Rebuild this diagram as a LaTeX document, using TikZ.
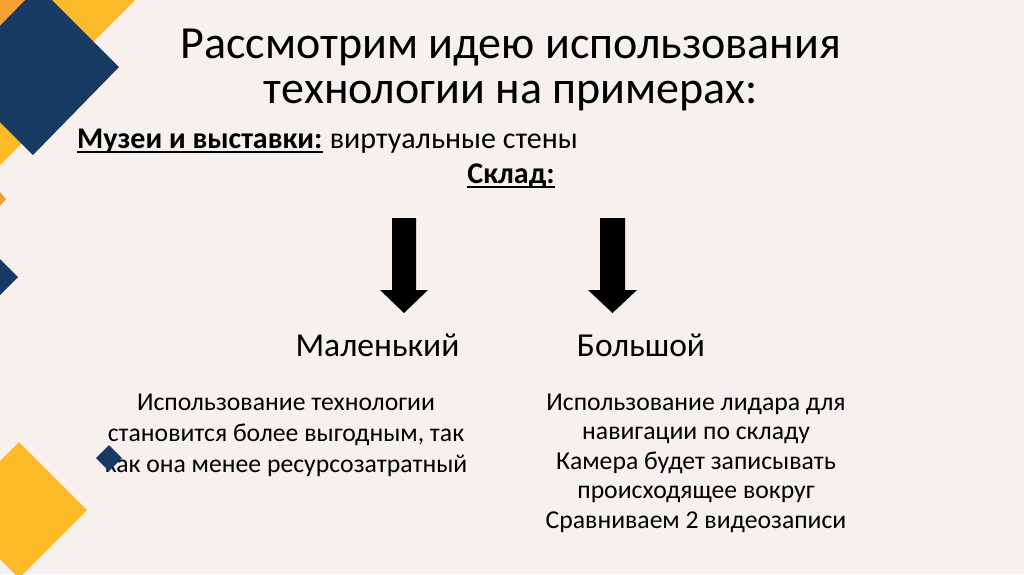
\documentclass[tikz,border=0pt]{standalone}
\usepackage{fontspec}
\setmainfont{Carlito}
\definecolor{bg}{RGB}{248,240,237}
\definecolor{navy}{RGB}{22,58,97}
\definecolor{gold}{RGB}{253,186,40}
\definecolor{orng}{RGB}{247,158,52}
\tikzset{
  titletext/.style={anchor=base, align=center, inner sep=0pt, font=\fontsize{46}{45}\selectfont},
  headtext/.style={anchor=base west, inner sep=0pt, font=\fontsize{30}{36}\selectfont},
  subtext/.style={anchor=base, inner sep=0pt, font=\fontsize{33.5}{40}\selectfont},
  bodyleft/.style={anchor=base, align=center, inner sep=0pt, font=\fontsize{25.7}{31}\selectfont},
  bodyright/.style={anchor=base, align=center, inner sep=0pt, font=\fontsize{25.7}{29.5}\selectfont},
  blockarrow/.style={fill=black, draw=none},
  ul/.style={line width=1.8pt}
}
\begin{document}
\begin{tikzpicture}[x=1pt,y=-1pt]
\fill[bg] (0,0) rectangle (1024,574);
\useasboundingbox (0,0) rectangle (1024,574);
\begin{scope}
\clip (0,0) rectangle (1024,574);
% decorative shapes
\fill[gold] (40,0) -- (135,0) -- (80,55) -- (40,40) -- cycle;
\fill[orng] (0,0) -- (32,0) -- (0,32) -- cycle;
\fill[gold] (0,100) -- (60,100) -- (21.5,143.5) -- (0,165) -- cycle;
\fill[navy] (38.5,-13.5) -- (119,67) -- (33,155) -- (-47.5,74.5) -- cycle;
\fill[orng] (0,192) -- (6,199) -- (0,206) -- cycle;
\fill[navy] (0,259) -- (18,277) -- (0,295) -- cycle;
\fill[gold] (19,442) -- (87,510) -- (19,578) -- (-49,510) -- cycle;
\end{scope}

% title (base anchor = baseline of last line)
\node[titletext] (title) at (511,103) {Рассмотрим идею использования\\технологии на примерах:};

% museums line
\node[headtext, font=\fontsize{30}{36}\selectfont\bfseries] (mus) at (77,148) {Музеи и выставки:};
\node[headtext] (musrest) at ([xshift=7pt]mus.base east) {виртуальные стены};
\draw[ul] ([yshift=-4pt]mus.base west) -- ([yshift=-4pt]mus.base east);

% sklad
\node[subtext, font=\fontsize{30}{36}\selectfont\bfseries] (sklad) at (511,183) {Склад:};
\draw[ul] ([yshift=-4pt]sklad.base west) -- ([yshift=-4pt]sklad.base east);

% arrows
\fill[blockarrow] (392,218) -- (416,218) -- (416,290) -- (428,290) -- (404,313) -- (380,290) -- (392,290) -- cycle;
\fill[blockarrow] (600,218) -- (625,218) -- (625,290) -- (637,290) -- (612.5,313) -- (588,290) -- (600,290) -- cycle;

% categories
\node[subtext] (small) at (377.5,356) {Маленький};
\node[subtext] (big) at (641,356) {Большой};

% descriptions (base anchor = baseline of last line)
\node[bodyleft] (smalltxt) at (286,472) {Использование технологии\\становится более выгодным, так\\как она менее ресурсозатратный};
\node[bodyright] (bigtxt) at (696,528) {Использование лидара для\\навигации по складу\\Камера будет записывать\\происходящее вокруг\\Сравниваем 2 видеозаписи};

% small diamond on top
\fill[navy] (109,445) -- (122,458) -- (109,471) -- (96,458) -- cycle;
\end{tikzpicture}
\end{document}
